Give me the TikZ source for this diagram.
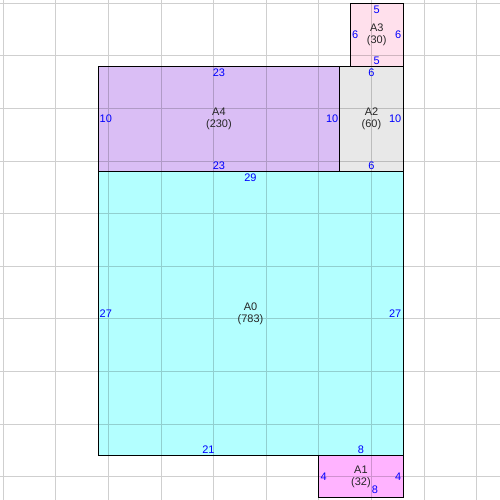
\documentclass[tikz,border=0pt]{standalone}
\usepackage{fontspec}
\setmainfont{Liberation Sans}
\usetikzlibrary{calc}
\definecolor{fillA0}{RGB}{179,255,255}
\definecolor{fillA1}{RGB}{255,179,255}
\definecolor{fillA2}{RGB}{232,232,232}
\definecolor{fillA3}{RGB}{255,224,236}
\definecolor{fillA4}{RGB}{218,190,245}
\tikzset{
  gridln/.style={black,draw opacity=0.19,line width=1bp},
  box/.style={draw=black,line width=0.9bp},
  nm/.style={align=center,text=black!85,inner sep=0pt,font=\fontsize{11}{11.5}\selectfont},
  lbl/.style={text=blue,inner xsep=1.5bp,inner ysep=2bp,font=\fontsize{11}{12}\selectfont}
}

\begin{document}
\begin{tikzpicture}[line join=miter,x=10.52bp,y=-10.52bp]
		\useasboundingbox (-0.314,-0.314) rectangle (47.22,47.22);
		% fills
		\fill[fillA0] (9,16) rectangle (38,43);
		\fill[fillA4] (9,6) rectangle (32,16);
		\fill[fillA2] (32,6) rectangle (38,16);
		\fill[fillA3] (33,0) rectangle (38,6);
		\fill[fillA1] (30,43) rectangle (38,47);
		% grid, one path so crossings do not darken
		\draw[gridln] foreach \k in {0,5,...,45} {
			(\k,-0.314) -- (\k,47.22)
			(-0.314,\k) -- (47.22,\k)
		};
		% outlines
		\draw[box] (9,16) rectangle (38,43);
		\draw[box] (9,6) rectangle (32,16);
		\draw[box] (32,6) rectangle (38,16);
		\draw[box] (33,0) rectangle (38,6);
		\draw[box] (30,43) rectangle (38,47);
		% names
		\node[nm] (nameA0) at (23.5,29.5) {A0\\(783)};
		\node[nm] (nameA4) at (20.5,11) {A4\\(230)};
		\node[nm] (nameA2) at (35,11) {A2\\(60)};
		\node[nm] (nameA3) at (35.5,3) {A3\\(30)};
		\node[nm] (nameA1) at (34,45) {A1\\(32)};
		% side lengths
		\node[lbl,anchor=north] (topA0) at (23.5,16) {29};
		\node[lbl,anchor=west] (leftA0) at (9,29.5) {27};
		\node[lbl,anchor=east] (rightA0) at (38,29.5) {27};
		\node[lbl,anchor=south] (botA0a) at (19.5,43) {21};
		\node[lbl,anchor=south] (botA0b) at (34,43) {8};
		\node[lbl,anchor=north] (topA4) at (20.5,6) {23};
		\node[lbl,anchor=south] (botA4) at (20.5,16) {23};
		\node[lbl,anchor=west] (leftA4) at (9,11) {10};
		\node[lbl,anchor=east] (rightA4) at (32,11) {10};
		\node[lbl,anchor=north] (topA2) at (35,6) {6};
		\node[lbl,anchor=south] (botA2) at (35,16) {6};
		\node[lbl,anchor=east] (rightA2) at (38,11) {10};
		\node[lbl,anchor=north] (topA3) at (35.5,0) {5};
		\node[lbl,anchor=south] (botA3) at (35.5,6) {5};
		\node[lbl,anchor=west] (leftA3) at (33,3) {6};
		\node[lbl,anchor=east] (rightA3) at (38,3) {6};
		\node[lbl,anchor=west] (leftA1) at (30,45) {4};
		\node[lbl,anchor=east] (rightA1) at (38,45) {4};
		\node[lbl] (botA1) at (35.33,46.26) {8};
\end{tikzpicture}
\end{document}
